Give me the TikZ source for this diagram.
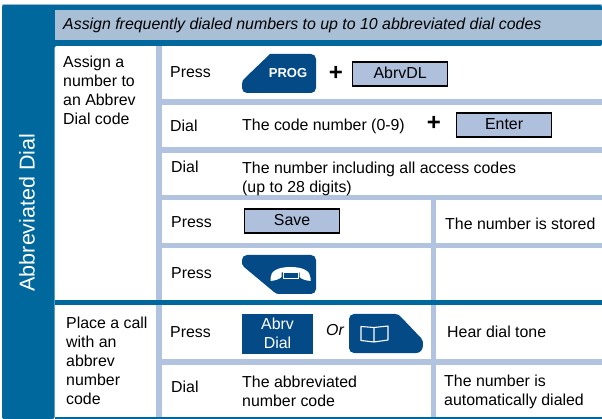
\documentclass[tikz,border=0pt]{standalone}
\usepackage{fontspec}
\setmainfont{Liberation Sans}
\definecolor{band}{HTML}{00689C}
\definecolor{hdr}{HTML}{A9BFD6}
\definecolor{rule}{HTML}{B1C3DF}
\definecolor{btn}{HTML}{044A86}
\definecolor{keyfill}{HTML}{AFC0DC}
\tikzset{
  lab/.style={inner sep=0pt,anchor=base west,font=\fontsize{15.9}{19}\selectfont,text=black},
  multi/.style={inner sep=0pt,anchor=north west,align=left,font=\fontsize{15.9}{19}\selectfont,text=black},
  softkey/.style={draw=black,line width=1.2pt,fill=keyfill,minimum width=95pt,minimum height=24pt,inner sep=0pt,text height=11pt,text depth=3pt,anchor=north west,font=\fontsize{15.9}{19}\selectfont},
  plusmark/.style={inner sep=0pt,font=\fontsize{24}{24}\bfseries\selectfont},
  btnfill/.style={fill=btn,draw=none},
  lightbar/.style={fill=rule,draw=none},
  darkbar/.style={fill=band,draw=none},
  iconline/.style={draw=white,line width=1.1pt,line join=round}
}
\begin{document}
\begin{tikzpicture}[x=1pt,y=-1pt]
\useasboundingbox (0,0) rectangle (602,419);
\fill[white] (0,0) rectangle (602,419);
% frame
\fill[rule] (2,4) rectangle (602,6);
\fill[darkbar,rounded corners=2pt] (2,5) -- (602,5) -- (602,46) -- (54.5,46) -- (54.5,419) -- (2,419) -- cycle;
\fill[hdr] (55,10.5) rectangle (602,40.5);
% rules
\fill[lightbar] (156,46) rectangle (161.5,417);
\fill[lightbar] (430.5,200) rectangle (436,417);
\fill[lightbar] (161.5,99) rectangle (602,105);
\fill[lightbar] (161.5,147) rectangle (602,153);
\fill[lightbar] (161.5,195) rectangle (602,200.5);
\fill[lightbar] (161.5,243) rectangle (602,248.5);
\fill[lightbar] (161.5,359) rectangle (602,365);
\fill[darkbar] (54.5,300) rectangle (602,305.5);
\fill[darkbar] (54.5,417) rectangle (602,419);
% header and side
\node[lab,font=\fontsize{15.9}{19}\itshape\selectfont] (head) at (63,30) {Assign frequently dialed numbers to up to 10 abbreviated dial codes};
\node[inner sep=0pt,rotate=90,text=white,font=\fontsize{21.5}{24}\selectfont] (side) at (27,212.5) {Abbreviated Dial};
% first column
\node[multi] (assign) at (63,56) {Assign a\\number to\\an Abbrev\\Dial code};
\node[multi] (place) at (66,316.5) {Place a call\\with an\\abbrev\\number\\code};
% step labels
\node[lab] (s1) at (170,77.5) {Press};
\node[lab] (s2) at (170,131.5) {Dial};
\node[lab] (s3) at (171,172.5) {Dial};
\node[lab] (s4) at (171,227.5) {Press};
\node[lab] (s5) at (171,278.5) {Press};
\node[lab] (s6) at (170,337.5) {Press};
\node[lab] (s7) at (171,392.5) {Dial};
% PROG button
\fill[btnfill] (270,54) -- (311,54) arc (-90:0:5) -- (316,88) arc (0:90:5) -- (247,93) arc (90:180:5) -- (242,84) .. controls (242,81) and (243,80) .. (245,78) -- cycle;
\node[inner sep=0pt,text=white,font=\fontsize{13}{13}\bfseries\selectfont] (prog) at (288,73.5) {PROG};
\node[plusmark] (p1) at (336,73) {+};
\node[softkey] (abrvdl) at (352,61.5) {AbrvDL};
% code number
\node[lab] (code) at (242,131) {The code number (0-9)};
\node[plusmark] (p2) at (434,123) {+};
\node[softkey] (enter) at (456,112.5) {Enter};
% number
\node[multi] (num) at (242,162) {The number including all access codes\\(up to 28 digits)};
% Save
\node[softkey] (save) at (244,208.5) {Save};
\node[lab] (stored) at (445,229.5) {The number is stored};
% phone button
\fill[btnfill] (247,255) -- (311,255) arc (-90:0:5) -- (316,289) arc (0:90:5) -- (279,294) .. controls (277,294) and (276,293.5) .. (274,292) -- (244,267) .. controls (242,265) and (242,264) .. (242,260) arc (180:270:5) -- cycle;
\fill[white] (270.5,278) .. controls (270.5,271) and (278,267) .. (290.5,267) .. controls (303,267) and (310.5,271) .. (310.5,278) -- (310.5,281) .. controls (306,280.5) and (302,279.5) .. (299.5,277) -- (299.5,272.5) -- (281.5,272.5) -- (281.5,277) .. controls (279,279.5) and (275,280.5) .. (270.5,281) -- cycle;
\draw[white,line width=1pt] (283,273) rectangle (298,279);
% Abrv dial
\fill[btnfill] (242,314) rectangle (313,354);
\node[inner sep=0pt,text=white,align=center,font=\fontsize{15.9}{19}\selectfont] (abrv) at (277.5,333) {Abrv\\Dial};
\node[lab,font=\fontsize{15.9}{19}\itshape\selectfont] (ortext) at (326,336) {Or};
% book button
\fill[btnfill] (354,314) -- (395,314) .. controls (398,314) and (399,315) .. (401,317) -- (421,338) .. controls (423,341) and (423,342) .. (423,345) .. controls (423,350) and (420,353) .. (416,353) -- (354,353) arc (90:180:5) -- (349,319) arc (180:270:5) -- cycle;
\draw[iconline] (361,326.5) -- (374,327.5) -- (388,326) -- (388,340) -- (374,342) -- (361,340.5) -- cycle (374,327.5) -- (374,342);
% results
\node[lab] (tone) at (447,337.5) {Hear dial tone};
\node[multi] (abbnum) at (242,376) {The abbreviated\\number code};
\node[multi] (auto) at (444,375) {The number is\\automatically dialed};
\end{tikzpicture}
\end{document}
